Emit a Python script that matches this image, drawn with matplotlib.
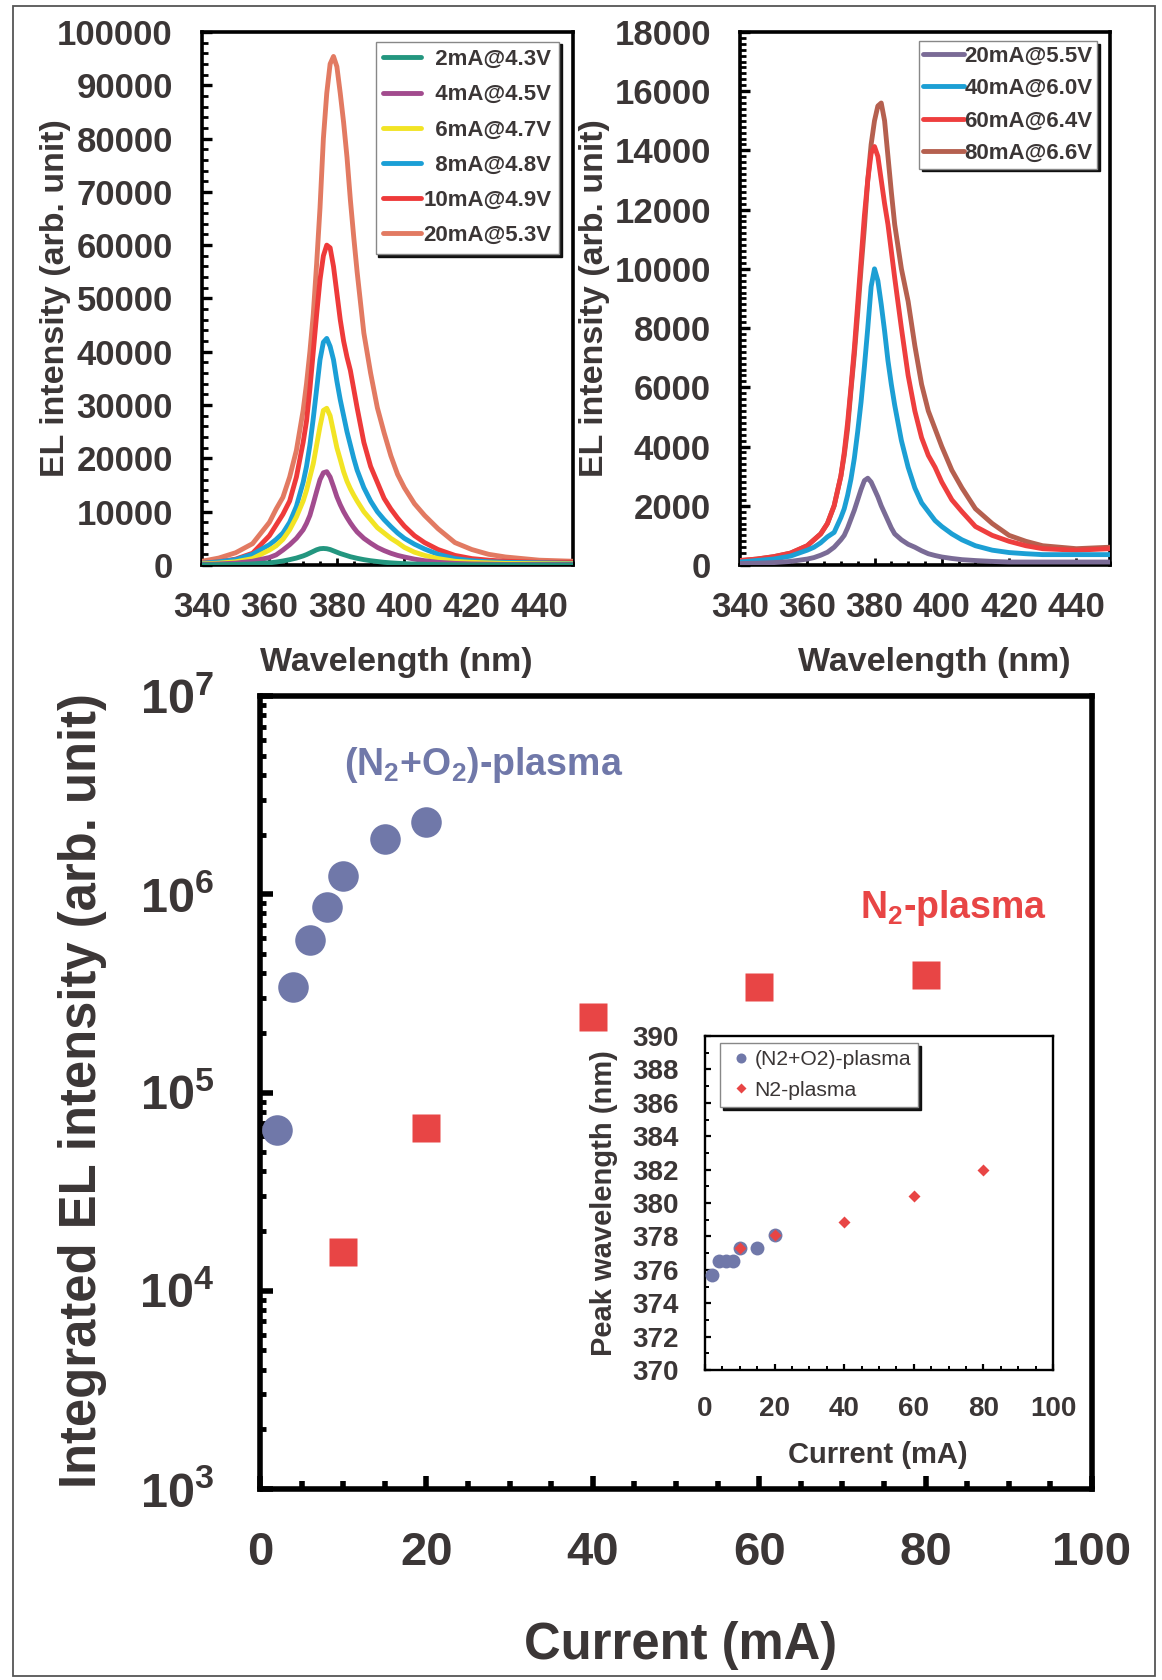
import matplotlib
matplotlib.use("Agg")
import matplotlib.pyplot as plt
from matplotlib.ticker import MultipleLocator, LogLocator, NullFormatter
from matplotlib.patches import Rectangle

# ---------------- data ----------------
wavelength_nm = [340, 345, 350, 355, 360, 362, 364, 366, 368, 370, 371, 372, 373, 374,
                 375, 376, 377, 378, 379, 380, 381, 382, 383, 384, 385, 386, 388, 390,
                 392, 394, 396, 398, 400, 403, 406, 410, 415, 420, 425, 430, 440, 450]

# (N2+O2)-plasma spectra (top-left)
left_labels = ['  2mA@4.3V', '  4mA@4.5V', '  6mA@4.7V', '  8mA@4.8V', '10mA@4.9V', '20mA@5.3V']
left_colors = ['#23967f', '#a24b8e', '#f2e424', '#1b9fd6', '#ee3a3a', '#e27a62']
el_2mA = [0, 50, 100, 200, 400, 550, 750, 1000, 1300, 1700, 1950, 2250, 2550, 2850,
          3050, 3100, 3050, 2900, 2650, 2400, 2150, 1950, 1750, 1550, 1400, 1250, 1000, 800,
          650, 500, 400, 320, 250, 180, 130, 80, 50, 30, 20, 10, 0, 0]
el_4mA = [100, 200, 350, 700, 1400, 1900, 2800, 3800, 5000, 6600, 7800, 9300, 11500, 13800,
          16000, 17300, 17500, 16500, 14700, 12800, 11300, 10000, 8900, 7900, 7000, 6200, 5000, 4100,
          3300, 2700, 2200, 1800, 1500, 1100, 800, 500, 300, 200, 150, 100, 100, 100]
el_6mA = [200, 350, 600, 1200, 2800, 3600, 4800, 6600, 9000, 12000, 14000, 16500, 19000, 22500,
          26000, 29000, 29400, 28000, 25000, 22000, 19800, 17500, 15700, 14300, 13100, 12000, 10000, 8500,
          7000, 6000, 5000, 4200, 3300, 2400, 1800, 1200, 700, 500, 400, 300, 250, 200]
el_8mA = [300, 600, 1000, 2000, 3800, 4800, 6000, 8000, 11000, 15500, 18500, 22500, 27500, 33000,
          38500, 41800, 42500, 41000, 38500, 34500, 31000, 28000, 25000, 22500, 20000, 17800, 14500, 12000,
          10000, 8500, 7200, 6000, 5000, 3900, 3000, 2000, 1200, 800, 600, 500, 400, 300]
el_10mA = [300, 600, 1100, 2200, 5500, 7500, 9500, 12000, 16500, 23000, 27000, 33000, 40000, 47000,
           53500, 58000, 60000, 59500, 56000, 51000, 46000, 42000, 39000, 36500, 33000, 29500, 23000, 18500,
           15500, 12500, 10500, 8800, 7300, 5500, 4200, 2900, 1800, 1200, 900, 700, 500, 500]
el_20mA = [700, 1300, 2300, 4000, 8000, 10500, 12700, 16500, 21500, 29000, 34000, 40000, 47000, 56500,
           67000, 80000, 88500, 94000, 95400, 93500, 88500, 83000, 76500, 68500, 61500, 55000, 43500, 36000,
           29500, 24800, 20500, 17000, 14500, 11500, 9300, 6800, 4200, 2900, 2000, 1500, 900, 700]

# N2-plasma spectra (top-right)
right_labels = ['20mA@5.5V', '40mA@6.0V', '60mA@6.4V', '80mA@6.6V']
right_colors = ['#7a6b96', '#1c9fd4', '#ee3e3e', '#b5604f']
el_n2_20mA = [50, 60, 80, 120, 200, 250, 330, 430, 600, 850, 1000, 1250, 1550, 1850,
              2200, 2550, 2850, 2930, 2800, 2550, 2300, 2000, 1750, 1500, 1250, 1050, 850, 700,
              600, 480, 380, 320, 270, 220, 180, 150, 120, 100, 100, 100, 100, 100]
el_n2_40mA = [100, 150, 200, 300, 500, 600, 750, 950, 1100, 1600, 1900, 2350, 2900, 3600,
              4500, 5500, 6700, 8000, 9400, 10000, 9600, 8800, 7900, 6900, 6100, 5400, 4200, 3300,
              2600, 2100, 1800, 1500, 1300, 1050, 850, 650, 500, 420, 380, 350, 350, 350]
el_n2_60mA = [150, 200, 280, 400, 650, 850, 1050, 1400, 2000, 3000, 3800, 4800, 6000, 7300,
              8800, 10300, 11800, 13000, 13900, 14130, 13800, 13000, 12200, 11500, 10600, 9700, 8000, 6400,
              5200, 4300, 3700, 3300, 2800, 2200, 1800, 1300, 1000, 800, 650, 550, 500, 550]
el_n2_80mA = [150, 200, 280, 400, 650, 850, 1050, 1400, 2000, 3000, 3700, 4600, 5900, 7100,
              8500, 10000, 11400, 13000, 14200, 15000, 15500, 15600, 15000, 13800, 12600, 11500, 10000, 8900,
              7400, 6100, 5200, 4600, 4000, 3200, 2600, 1900, 1400, 1000, 800, 650, 550, 600]

# Integrated EL intensity vs current (main)
n2o2_current = [2, 4, 6, 8, 10, 15, 20]
n2o2_intensity = [6.5e4, 3.4e5, 5.9e5, 8.6e5, 1.24e6, 1.89e6, 2.32e6]
n2_current = [10, 20, 40, 60, 80]
n2_intensity = [1.56e4, 6.6e4, 2.41e5, 3.4e5, 3.9e5]

# Peak wavelength vs current (inset)
inset_n2o2_current = [2, 4, 6, 8, 10, 15, 20]
inset_n2o2_peak = [375.7, 376.5, 376.5, 376.5, 377.3, 377.3, 378.1]
inset_n2_current = [10, 20, 40, 60, 80]
inset_n2_peak = [377.3, 378.1, 378.85, 380.4, 382.0]

# ---------------- style ----------------
plt.rcParams.update({
    'font.family': ['Liberation Sans', 'DejaVu Sans'],
    'font.weight': 'bold',
    'axes.labelweight': 'bold',
    'mathtext.fontset': 'custom',
    'mathtext.rm': 'Liberation Sans:bold',
    'mathtext.it': 'Liberation Sans:bold',
    'mathtext.bf': 'Liberation Sans:bold',
    'mathtext.default': 'rm',
    'axes.unicode_minus': False,
})
TXT = '#3b3636'
BLUE_PT = '#7078a9'
RED_PT = '#e84545'

fig = plt.figure(figsize=(11.62, 16.8), dpi=100)
fig.patch.set_facecolor('white')
fig.add_artist(Rectangle((13 / 1162, 4 / 1680), 1142 / 1162, 1670 / 1680,
                         transform=fig.transFigure, fill=False, lw=1.3, ec='#555555'))

ax1 = fig.add_axes([0.1738, 0.6637, 0.3193, 0.3173])
ax2 = fig.add_axes([0.6368, 0.6637, 0.3184, 0.3173])
ax3 = fig.add_axes([0.2238, 0.1137, 0.7160, 0.4720])
ax4 = fig.add_axes([0.6067, 0.1845, 0.2995, 0.1988])


def style_top(ax, ymax, ymajor, yminor):
    ax.set_xlim(340, 450)
    ax.set_ylim(0, ymax)
    ax.xaxis.set_major_locator(MultipleLocator(20))
    ax.xaxis.set_minor_locator(MultipleLocator(5))
    ax.yaxis.set_major_locator(MultipleLocator(ymajor))
    ax.yaxis.set_minor_locator(MultipleLocator(yminor))
    for s in ax.spines.values():
        s.set_linewidth(2.6)
        s.set_color('black')
    ax.tick_params(which='both', direction='in', top=False, right=False,
                   colors='black', labelcolor=TXT)
    ax.tick_params(axis='y', which='major', length=7, width=2.4, labelsize=25, pad=21)
    ax.tick_params(axis='y', which='minor', length=4.5, width=2.0)
    ax.tick_params(axis='x', which='major', length=5, width=2, labelsize=25, pad=19)
    ax.tick_params(axis='x', which='minor', length=3, width=2)
    ax.set_xlabel('Wavelength (nm)', fontsize=24.5, color=TXT, va='center',
                  fontweight='bold')
    ax.set_ylabel('EL intensity (arb. unit)', fontsize=24.5, color=TXT, va='center',
                  fontweight='bold')


# top-left
left_series = [el_2mA, el_4mA, el_6mA, el_8mA, el_10mA, el_20mA]
for i, (vals, lab, col) in enumerate(zip(left_series, left_labels, left_colors)):
    ax1.plot(wavelength_nm, vals, color=col, lw=3.5, label=lab, zorder=10 - i,
             solid_capstyle='round')
style_top(ax1, 100000, 10000, 2000)
ax1.yaxis.set_label_coords(-0.396, 0.5)
ax1.xaxis.set_label_coords(0.523, -0.182)
ax1.legend(loc='upper right', bbox_to_anchor=(0.962, 0.982), borderaxespad=0,
           fontsize=16, labelcolor=TXT, frameon=True, fancybox=False, edgecolor='#888888',
           framealpha=1, shadow={'color': 'black', 'alpha': 0.9},
           handlelength=1.7, handletextpad=0.1, labelspacing=0.64, borderpad=0.34)

# top-right
right_series = [el_n2_20mA, el_n2_40mA, el_n2_60mA, el_n2_80mA]
right_z = [6, 5, 4, 3]
for vals, lab, col, z in zip(right_series, right_labels, right_colors, right_z):
    ax2.plot(wavelength_nm, vals, color=col, lw=3.5, label=lab, zorder=z,
             solid_capstyle='round')
style_top(ax2, 18000, 2000, 200)
ax2.yaxis.set_label_coords(-0.392, 0.5)
ax2.xaxis.set_label_coords(0.526, -0.182)
ax2.legend(loc='upper right', bbox_to_anchor=(0.965, 0.983), borderaxespad=0,
           fontsize=16, labelcolor=TXT, frameon=True, fancybox=False, edgecolor='#888888',
           framealpha=1, shadow={'color': 'black', 'alpha': 0.9},
           handlelength=1.85, handletextpad=0.0, labelspacing=0.52, borderpad=0.2)

# main plot
ax3.set_yscale('log')
ax3.set_xlim(0, 100)
ax3.set_ylim(1e3, 1e7)
ax3.plot(n2o2_current, n2o2_intensity, 'o', ms=22, color=BLUE_PT, mec='none', zorder=3)
ax3.plot(n2_current, n2_intensity, 's', ms=20, color=RED_PT, mec='none', zorder=3)
ax3.xaxis.set_major_locator(MultipleLocator(20))
ax3.xaxis.set_minor_locator(MultipleLocator(5))
ax3.yaxis.set_major_locator(LogLocator(base=10))
ax3.yaxis.set_minor_locator(LogLocator(base=10, subs=range(2, 10)))
ax3.yaxis.set_minor_formatter(NullFormatter())
for s in ax3.spines.values():
    s.set_linewidth(4)
    s.set_color('black')
ax3.tick_params(which='both', direction='in', top=False, right=False,
                colors='black', labelcolor=TXT)
ax3.tick_params(axis='x', which='major', length=9.5, width=4, labelsize=34, pad=30)
ax3.tick_params(axis='x', which='minor', length=6, width=4)
ax3.tick_params(axis='y', which='major', length=9, width=4, labelsize=35, pad=33)
ax3.tick_params(axis='y', which='minor', length=4.5, width=3.5)
ax3.set_xlabel('Current (mA)', fontsize=36.5, color=TXT, va='center', fontweight='bold')
ax3.set_ylabel('Integrated EL intensity (arb. unit)', fontsize=36.5, color=TXT,
               va='center', fontweight='bold')
ax3.xaxis.set_label_coords(0.506, -0.198)
ax3.yaxis.set_label_coords(-0.214, 0.503)
ax3.text(10.1, 4.49e6, '(N$_2$+O$_2$)-plasma', fontsize=27, color=BLUE_PT,
         ha='left', va='center')
ax3.text(72.1, 8.53e5, 'N$_2$-plasma', fontsize=27, color=RED_PT,
         ha='left', va='center')

# inset
ax4.set_facecolor('white')
ax4.set_xlim(0, 100)
ax4.set_ylim(370, 390)
ax4.plot(inset_n2o2_current, inset_n2o2_peak, 'o', ms=10, color=BLUE_PT, mec='none',
         label='(N2+O2)-plasma', zorder=3)
ax4.plot(inset_n2_current, inset_n2_peak, 'D', ms=6.6, color=RED_PT, mec='none',
         label='N2-plasma', zorder=4)
ax4.xaxis.set_major_locator(MultipleLocator(20))
ax4.xaxis.set_minor_locator(MultipleLocator(5))
ax4.yaxis.set_major_locator(MultipleLocator(2))
ax4.yaxis.set_minor_locator(MultipleLocator(1))
for s in ax4.spines.values():
    s.set_linewidth(1.7)
    s.set_color('black')
ax4.tick_params(which='both', direction='in', top=False, right=False,
                colors='black', labelcolor=TXT)
ax4.tick_params(which='major', length=4.5, width=1.6, labelsize=20)
ax4.tick_params(which='minor', length=2.8, width=1.4)
ax4.tick_params(axis='x', which='major', pad=19)
ax4.tick_params(axis='y', which='major', pad=19)
ax4.set_xlabel('Current (mA)', fontsize=21, color=TXT, va='center', fontweight='bold')
ax4.set_ylabel('Peak wavelength (nm)', fontsize=21, color=TXT, va='center',
               fontweight='bold')
ax4.xaxis.set_label_coords(0.497, -0.254)
ax4.yaxis.set_label_coords(-0.29, 0.5)
ax4.legend(loc='upper left', bbox_to_anchor=(0.043, 0.979), borderaxespad=0,
           prop={'size': 15.2, 'weight': 'normal'}, labelcolor=TXT, frameon=True,
           fancybox=False, edgecolor='#888888', framealpha=1,
           shadow={'color': 'black', 'alpha': 0.9}, markerscale=0.72,
           handlelength=1.3, handletextpad=0.0, labelspacing=0.56, borderpad=0.33)

fig.savefig('out.png', dpi=100, facecolor='white')
